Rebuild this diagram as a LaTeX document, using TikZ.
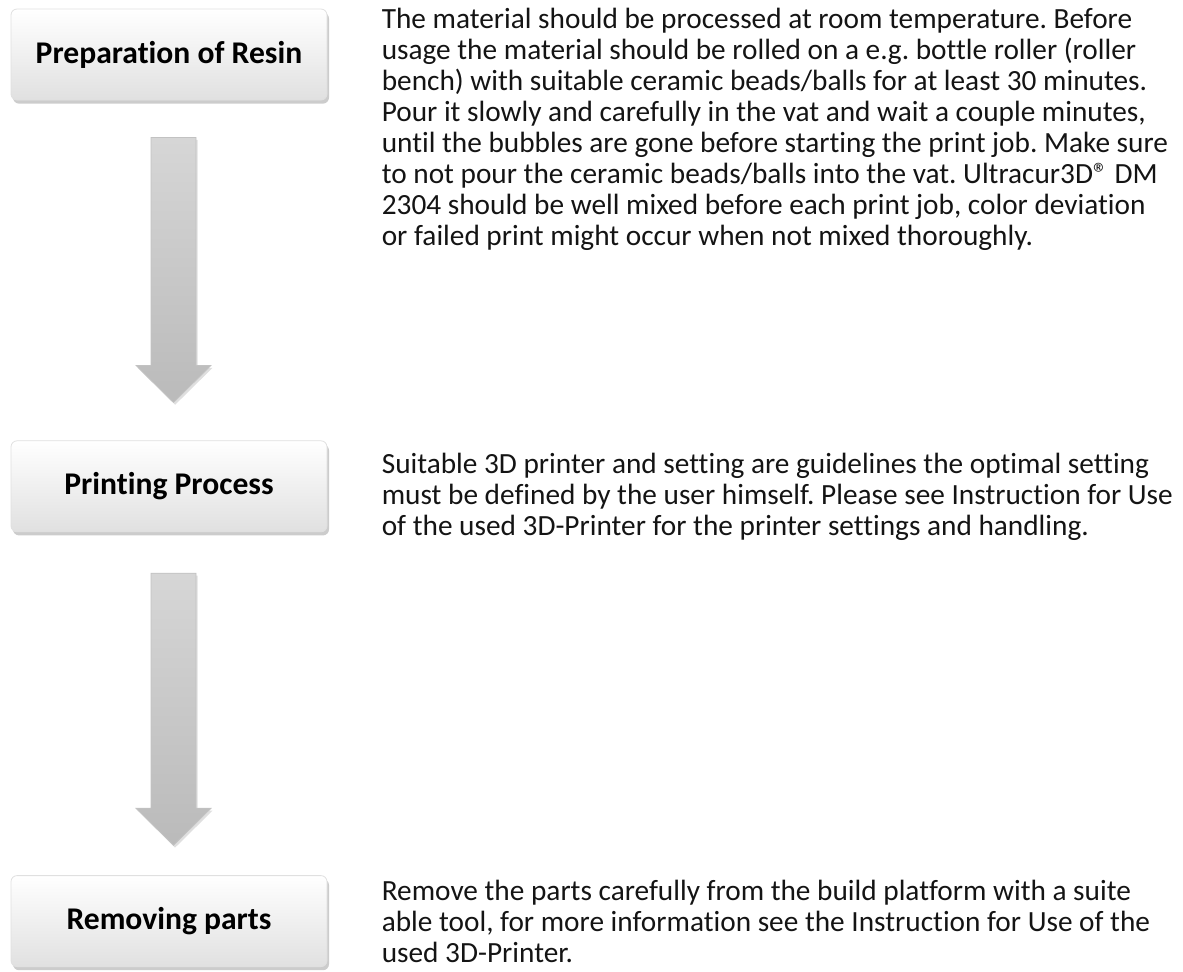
\documentclass[tikz,border=0pt]{standalone}
\usepackage{fontspec}
\setmainfont{Carlito}[Ligatures=NoCommon]
\frenchspacing
\usepackage{tikz}
\usetikzlibrary{calc,positioning,shadows}
\def\blockarrow(#1)(#2)(#3:#4){\draw[arrowbody] ($(#1.south)+(-18,#3)$) -- ($(#1.south)+(27,#3)$) -- ($(#2.north)+(27,-#4-37)$) -- ($(#2.north)+(42,-#4-37)$) -- ($(#2.north)+(4.5,-#4)$) -- ($(#2.north)+(-33,-#4-37)$) -- ($(#2.north)+(-18,-#4-37)$) -- cycle;}
\tikzset{
  stepbox/.style={rounded corners=3pt, draw=black!12, line width=0.4pt, top color=white, middle color=white, bottom color=black!12, minimum width=158pt, minimum height=45.5pt, inner sep=0pt, font=\fontsize{15.8}{18}\selectfont\bfseries, drop shadow={opacity=0.4, shadow xshift=1pt, shadow yshift=-1.8pt}},
  arrowbody/.style={draw=black!24, line width=0.4pt, top color=black!16, bottom color=black!27, drop shadow={opacity=0.25, shadow xshift=0.8pt, shadow yshift=-1.2pt}},
  steptext/.style={inner sep=0pt, align=left, text=black!92, font=\fontsize{14.65}{15.5}\selectfont}
}
\begin{document}
\begin{tikzpicture}[x=0.5pt, y=-0.5pt]
			%%%%% START %%%%%
			\useasboundingbox (0, 0) rectangle (1183, 971);
			
			\node[stepbox] (prep) at (169, 54.5) {Preparation of Resin};
			\node[stepbox, below=170pt of prep] (print) {Printing Process};
			\node[stepbox, below=171.5pt of print] (remove) {Removing parts};
			
			\blockarrow(prep)(print)(37:38)
			\blockarrow(print)(remove)(41:30)
			
			\node[steptext, right=27pt of prep.north east, anchor=north west, yshift=0.5pt] (prepnote) {The material should be processed at room temperature. Before\\
				usage the material should be rolled on a e.g. bottle roller (roller\\
				bench) with suitable ceramic beads/balls for at least 30 minutes.\\
				Pour it slowly and carefully in the vat and wait a couple minutes,\\
				until the bubbles are gone before starting the print job. Make sure\\
				to not pour the ceramic beads/balls into the vat. Ultracur3D® DM\\
				2304 should be well mixed before each print job, color deviation\\
				or failed print might occur when not mixed thoroughly.};
			
			\node[steptext, right=27pt of print, yshift=-5.5pt] (printnote) {Suitable 3D printer and setting are guidelines the optimal setting\\
				must be defined by the user himself. Please see Instruction for Use\\
				of the used 3D-Printer for the printer settings and handling.};
			
			\node[steptext, right=27pt of remove] (removenote) {Remove the parts carefully from the build platform with a suite\\
				able tool, for more information see the Instruction for Use of the\\
				used 3D-Printer.};
			
			%%%%% END %%%%%
\end{tikzpicture}
\end{document}
